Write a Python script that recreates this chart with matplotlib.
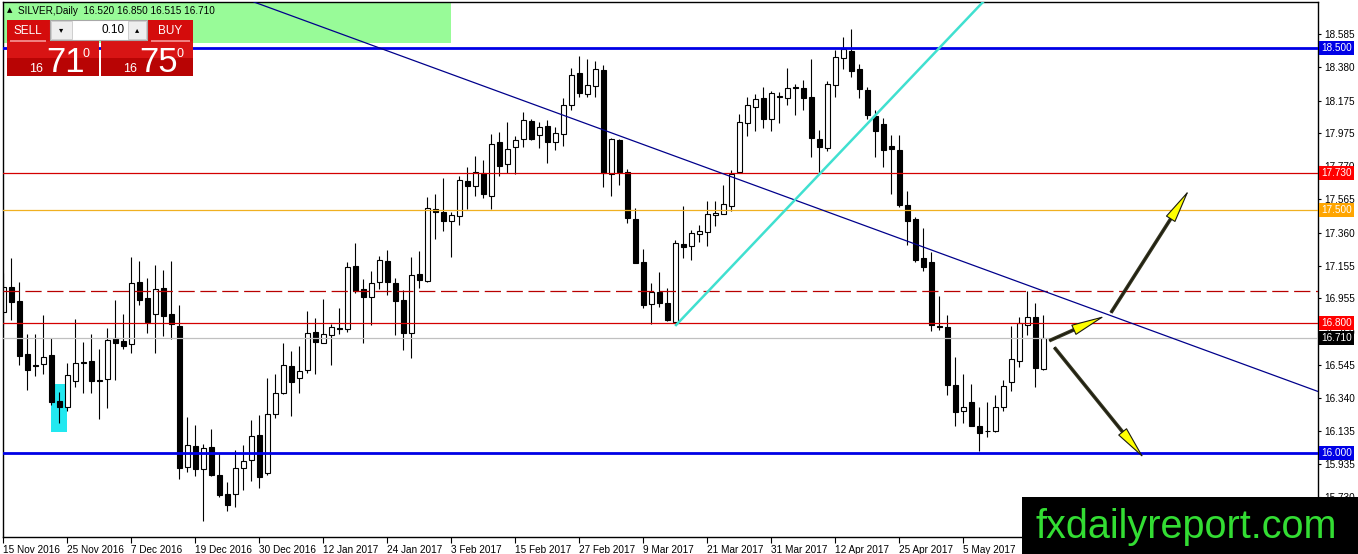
import numpy as np
import matplotlib
matplotlib.use("Agg")
import matplotlib.pyplot as plt
from matplotlib.patches import Rectangle, FancyArrowPatch
from matplotlib import transforms

plt.rcParams["font.family"] = ["Liberation Sans", "DejaVu Sans"]

# daily OHLC, SILVER, 15 Nov 2016 .. 17 May 2017
opens = [16.872, 17.023, 16.938, 16.609, 16.545, 16.547, 16.603, 16.319, 16.282, 16.446,
         16.560, 16.568, 16.446, 16.455, 16.710, 16.693, 16.671, 17.053, 16.955, 16.856,
         17.016, 16.856, 16.784, 15.916, 16.043, 15.899, 16.037, 15.864, 15.747, 15.745,
         15.909, 15.957, 16.111, 15.879, 16.239, 16.370, 16.537, 16.461, 16.512, 16.747,
         16.681, 16.726, 16.770, 16.763, 17.154, 17.012, 16.965, 17.054, 17.185, 17.052,
         16.944, 16.739, 17.105, 17.062, 17.504, 17.490, 17.430, 17.463, 17.679, 17.650,
         17.726, 17.589, 17.922, 17.782, 17.892, 17.936, 18.049, 17.961, 18.016, 17.920,
         17.967, 18.146, 18.346, 18.216, 18.265, 18.364, 17.722, 17.932, 17.733, 17.444,
         17.179, 16.918, 16.996, 16.924, 16.811, 17.290, 17.278, 17.350, 17.366, 17.469,
         17.473, 17.527, 17.737, 18.035, 18.138, 18.189, 18.060, 18.202, 18.193, 18.257,
         18.251, 18.195, 17.938, 17.885, 18.271, 18.436, 18.481, 18.368, 18.241, 18.080,
         18.030, 17.897, 17.870, 17.529, 17.442, 17.206, 17.177, 16.782, 16.776, 16.420,
         16.261, 16.317, 16.167, 16.134, 16.138, 16.286, 16.440, 16.570, 16.790, 16.837,
         16.520]
highs = [17.109, 17.202, 17.053, 16.734, 16.734, 16.852, 16.708, 16.379, 16.553, 16.827,
         16.685, 16.734, 16.642, 16.772, 16.944, 16.858, 17.208, 17.183, 17.078, 17.160,
         17.130, 17.185, 16.914, 16.224, 16.173, 16.053, 16.148, 16.000, 15.823, 16.018,
         16.049, 16.204, 16.235, 16.461, 16.488, 16.677, 16.632, 16.660, 16.879, 16.831,
         16.951, 16.796, 16.893, 17.181, 17.298, 17.072, 17.123, 17.216, 17.253, 17.078,
         17.006, 17.212, 17.247, 17.582, 17.599, 17.695, 17.490, 17.710, 17.763, 17.833,
         17.809, 17.969, 17.984, 18.045, 17.957, 18.107, 18.060, 18.045, 18.055, 18.010,
         18.189, 18.374, 18.453, 18.430, 18.422, 18.395, 17.942, 17.936, 17.751, 17.510,
         17.257, 17.051, 17.115, 17.016, 17.315, 17.527, 17.377, 17.407, 17.557, 17.555,
         17.654, 17.747, 18.093, 18.195, 18.216, 18.261, 18.237, 18.230, 18.374, 18.278,
         18.302, 18.430, 17.994, 18.298, 18.488, 18.566, 18.615, 18.401, 18.261, 18.120,
         18.070, 17.963, 17.963, 17.617, 17.455, 17.387, 17.239, 16.969, 16.852, 16.595,
         16.488, 16.426, 16.286, 16.317, 16.358, 16.451, 16.784, 16.841, 17.002, 16.924,
         16.850]
lows = [16.790, 16.821, 16.543, 16.389, 16.475, 16.488, 16.296, 16.187, 16.260, 16.409,
        16.372, 16.372, 16.212, 16.280, 16.451, 16.640, 16.615, 16.913, 16.743, 16.619,
        16.722, 16.702, 15.838, 15.885, 15.858, 15.582, 15.858, 15.726, 15.644, 15.669,
        15.772, 15.829, 15.786, 15.864, 16.214, 16.364, 16.231, 16.372, 16.492, 16.488,
        16.677, 16.543, 16.735, 16.749, 16.990, 16.681, 16.788, 17.010, 16.975, 16.728,
        16.636, 16.585, 17.017, 17.054, 17.319, 17.370, 17.208, 17.407, 17.506, 17.587,
        17.572, 17.506, 17.710, 17.731, 17.722, 17.891, 17.932, 17.881, 17.788, 17.870,
        17.895, 18.117, 18.195, 18.195, 18.195, 17.644, 17.586, 17.654, 17.422, 17.170,
        16.893, 16.796, 16.903, 16.817, 16.790, 17.202, 17.191, 17.305, 17.278, 17.401,
        17.473, 17.496, 17.726, 17.959, 17.990, 18.004, 17.990, 18.039, 18.148, 18.086,
        18.117, 17.829, 17.726, 17.864, 18.199, 18.368, 18.319, 18.189, 18.060, 17.829,
        17.763, 17.599, 17.516, 17.284, 17.181, 17.125, 16.755, 16.759, 16.358, 16.167,
        16.183, 16.167, 16.014, 16.101, 16.132, 16.261, 16.385, 16.529, 16.728, 16.405,
        16.515]
closes = [17.023, 16.930, 16.599, 16.512, 16.540, 16.595, 16.317, 16.286, 16.479, 16.553,
          16.557, 16.446, 16.444, 16.695, 16.681, 16.663, 17.047, 16.944, 16.811, 17.010,
          16.848, 16.794, 15.910, 16.047, 15.899, 16.029, 15.864, 15.741, 15.679, 15.905,
          15.950, 16.105, 15.854, 16.241, 16.368, 16.543, 16.440, 16.506, 16.739, 16.687,
          16.733, 16.780, 16.768, 17.146, 17.002, 16.965, 17.047, 17.192, 17.054, 16.940,
          16.743, 17.097, 17.068, 17.510, 17.490, 17.434, 17.469, 17.685, 17.650, 17.733,
          17.597, 17.905, 17.774, 17.877, 17.932, 18.056, 17.940, 18.014, 17.922, 17.973,
          18.148, 18.333, 18.220, 18.270, 18.368, 17.730, 17.936, 17.737, 17.449, 17.175,
          16.914, 16.996, 16.928, 16.821, 17.294, 17.270, 17.356, 17.372, 17.475, 17.483,
          17.537, 17.722, 18.041, 18.148, 18.183, 18.064, 18.224, 18.200, 18.251, 18.251,
          18.193, 17.942, 17.891, 18.276, 18.442, 18.492, 18.360, 18.245, 18.086, 17.990,
          17.870, 17.875, 17.531, 17.434, 17.191, 17.150, 16.790, 16.780, 16.420, 16.255,
          16.284, 16.169, 16.125, 16.136, 16.282, 16.414, 16.578, 16.800, 16.837, 16.523,
          16.710]

date_labels = ["15 Nov 2016", "25 Nov 2016", "7 Dec 2016", "19 Dec 2016", "30 Dec 2016",
               "12 Jan 2017", "24 Jan 2017", "3 Feb 2017", "15 Feb 2017", "27 Feb 2017",
               "9 Mar 2017", "21 Mar 2017", "31 Mar 2017", "12 Apr 2017", "25 Apr 2017",
               "5 May 2017"]
date_bars = list(range(0, 128, 8))

price_ticks = [18.585, 18.380, 18.175, 17.975, 17.770, 17.565, 17.360, 17.155,
               16.955, 16.750, 16.545, 16.340, 16.135, 15.935, 15.730]

# horizontal levels: value, line colour, label box colour
levels = [18.500, 17.730, 17.500, 16.800, 16.710, 16.000]
level_colors = ["#0000e6", "#d40000", "#f0b020", "#d40000", "#c0c0c0", "#0000e6"]
level_boxes = ["#0000e6", "#ff0000", "#ffa500", "#ff0000", "#000000", "#0000e6"]
level_widths = [2.0, 0.9, 0.9, 0.9, 0.9, 2.0]
dashed_level = 17.0

# trend lines (bar index, price)
down_trend = [(47.7, 18.488), (130.8, 16.986)]
up_trend = [(84.1, 16.79), (126.0, 18.968)]

# cyan box: bars 6..8, price range
box_bars = (6.0, 8.0)
box_prices = (16.130, 16.426)

# yellow arrows: start bar, start price, tip bar, tip price
arrows = [(130.75, 16.693, 137.71, 16.846),
          (138.46, 16.866, 148.21, 17.623),
          (131.38, 16.652, 142.59, 15.967)]

header = "SILVER,Daily  16.520 16.850 16.515 16.710"

W, H = 1358, 554
fig = plt.figure(figsize=(W / 100, H / 100), dpi=100)
fig.patch.set_facecolor("white")
ax = fig.add_axes([3 / W, 1 - 537 / H, 1315 / W, 535 / H])
ax.set_xlim(-0.04, 164.34)
ax.set_ylim(15.4815, 18.784)

idx = np.arange(len(opens))
o = np.array(opens); c = np.array(closes)
hi = np.array(highs); lo = np.array(lows)

# cyan highlight box behind candles
ax.add_patch(Rectangle((box_bars[0], box_prices[0]), box_bars[1] - box_bars[0],
                       box_prices[1] - box_prices[0], facecolor="#22e8f0",
                       edgecolor="none", zorder=1))

# candles
ax.vlines(idx, lo, hi, color="black", lw=0.8, zorder=2)
up = c >= o
body_lo = np.minimum(o, c)
body_h = np.maximum(np.abs(c - o), 0.004)
ax.bar(idx[up], body_h[up], bottom=body_lo[up], width=0.62, facecolor="white",
       edgecolor="black", lw=0.8, zorder=2.1)
ax.bar(idx[~up], body_h[~up], bottom=body_lo[~up], width=0.62, facecolor="black",
       edgecolor="black", lw=0.8, zorder=2.1)

# levels
for v, col, lw in zip(levels, level_colors, level_widths):
    ax.axhline(v, color=col, lw=lw, zorder=3)
ax.axhline(dashed_level, color="#b80000", lw=0.9, ls=(0, (13, 4.5)), zorder=3)

ax.axline(down_trend[0], down_trend[1], color="#00008b", lw=0.9, zorder=3)
ax.plot([up_trend[0][0], up_trend[1][0]], [up_trend[0][1], up_trend[1][1]],
        color="#40e0d0", lw=1.8, zorder=3)

# arrows: dark shaft + yellow head
hl_px = 2.2 * 10 * fig.dpi / 72
for x0, y0, x1, y1 in arrows:
    p0 = ax.transData.transform((x0, y0))
    p1 = ax.transData.transform((x1, y1))
    d = p1 - p0
    base = p1 - d / np.hypot(*d) * (hl_px - 2)
    bx, by = ax.transData.inverted().transform(base)
    ax.plot([x0, bx], [y0, by], color="#35351f", lw=2.6, solid_capstyle="butt",
            zorder=4, clip_on=False)
    ax.add_patch(FancyArrowPatch((x0, y0), (x1, y1),
                                 arrowstyle="-|>,head_length=2.2,head_width=0.36",
                                 mutation_scale=10, lw=0.8, ec="#1a1a10", fc="#ffff00",
                                 shrinkA=0, shrinkB=0, zorder=4.5))

# axes styling
for s in ax.spines.values():
    s.set_color("black")
    s.set_linewidth(1)
ax.yaxis.tick_right()
ax.set_yticks(price_ticks)
ax.set_yticklabels([f"{v:.3f}" for v in price_ticks])
ax.tick_params(axis="y", direction="out", length=2.5, width=0.8, pad=2, labelsize=7.2)
ax.set_xticks(date_bars)
ax.set_xticklabels(date_labels)
ax.tick_params(axis="x", direction="out", length=4, width=0.8, pad=1.5, labelsize=7.2)
for lbl in ax.get_xticklabels():
    lbl.set_ha("left")

# price label boxes on the right scale
trans = transforms.blended_transform_factory(ax.transAxes, ax.transData)
for v, bc in zip(levels, level_boxes):
    ax.text(1.0022, v, f"{v:.3f}", transform=trans, ha="left", va="center",
            fontsize=7.2, color="white", clip_on=False, zorder=6,
            bbox=dict(boxstyle="square,pad=0.2", fc=bc, ec="none"))


def fbox(x0, y0, x1, y1, target=fig, **kw):
    r = Rectangle((x0 / W, 1 - y1 / H), (x1 - x0) / W, (y1 - y0) / H,
                  transform=fig.transFigure, **kw)
    target.add_artist(r)
    return r


# green header strip (behind the trend line)
g = Rectangle((3.3 / W, 1 - 42.7 / H), (451 - 3.3) / W, 40.7 / H,
              transform=fig.transFigure, facecolor="#98fb98", edgecolor="none",
              zorder=0.5)
ax.add_patch(g)
fig.text(7 / W, 1 - 10.5 / H, "\u25b2", fontsize=5, va="center", family="DejaVu Sans")
fig.text(18 / W, 1 - 10.5 / H, header, fontsize=7.2, va="center")

# one-click trading panel
fbox(7, 20, 50, 41, fc="#d40c0c", ec="none")
fbox(148, 20, 193, 41, fc="#d40c0c", ec="none")
fbox(7, 41, 99, 58, fc="#d81414", ec="none")
fbox(7, 58, 99, 76, fc="#b80404", ec="none")
fbox(101, 41, 193, 58, fc="#d81414", ec="none")
fbox(101, 58, 193, 76, fc="#b80404", ec="none")
fbox(10, 40.5, 46, 41.5, fc="#f08080", ec="none")
fbox(151, 40.5, 190, 41.5, fc="#f08080", ec="none")
fbox(50, 20, 147, 40, fc="white", ec="#a8a8a8", lw=0.8)
fbox(51, 21, 72, 39, fc="#eeeeee", ec="#c8c8c8", lw=0.6)
fbox(128, 21, 146, 39, fc="#eeeeee", ec="#c8c8c8", lw=0.6)
fig.text(61.5 / W, 1 - 30 / H, "\u25be", fontsize=6, ha="center", va="center",
         family="DejaVu Sans")
fig.text(137 / W, 1 - 30 / H, "\u25b4", fontsize=6, ha="center", va="center",
         family="DejaVu Sans")
fig.text(125 / W, 1 - 30 / H, "0.10", fontsize=8.5, ha="right", va="center")
fig.text(28 / W, 1 - 30.5 / H, "SELL", fontsize=8.5, ha="center", va="center", color="white")
fig.text(170.5 / W, 1 - 30.5 / H, "BUY", fontsize=8.5, ha="center", va="center", color="white")
for x_small, x_big, x_sup, big in [(36.5, 46, 86, "71"), (130, 139, 180, "75")]:
    fig.text(x_small / W, 1 - 72 / H, "16", fontsize=9, ha="center", va="baseline", color="white")
    fig.text(x_big / W, 1 - 72.5 / H, big, fontsize=25, ha="left", va="baseline", color="white")
    fig.text(x_sup / W, 1 - 57 / H, "0", fontsize=9, ha="center", va="baseline", color="white")

# watermark
fbox(1022, 497, 1358, 554, fc="black", ec="none", zorder=5)
fig.text(1036 / W, 1 - 538 / H, "fxdailyreport.com", fontsize=28.5, color="#33dd33",
         ha="left", va="baseline", zorder=6)

fig.savefig("out.png", dpi=100)
